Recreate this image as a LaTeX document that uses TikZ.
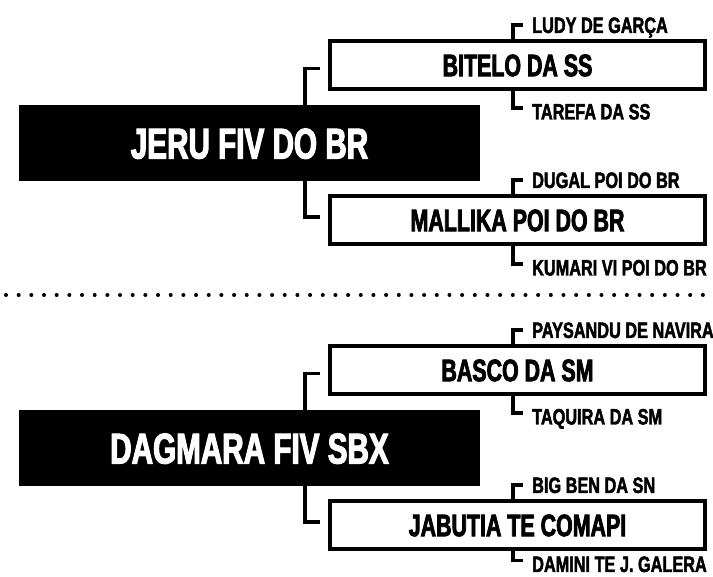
\documentclass[tikz,border=0pt]{standalone}
\usepackage{fontspec}
\usepackage{tikz}
\newfontfamily\namefont[FakeStretch=0.69, FakeBold=2.5]{Liberation Sans}
\newfontfamily\grandfont[FakeStretch=0.73, FakeBold=2]{Liberation Sans}
\tikzset{
  dam/.style={fill=black, text=white, inner sep=0pt,
    minimum width=461pt, minimum height=76pt,
    text height=31pt, text depth=0pt,
    font=\namefont\bfseries\fontsize{43}{43}\selectfont},
  parent/.style={draw, line width=3.5pt, fill=white, inner sep=0pt,
    minimum width=375pt, minimum height=48pt,
    text height=22.3pt, text depth=0pt,
    font=\namefont\bfseries\fontsize{31}{31}\selectfont},
  grand/.style={anchor=west, inner xsep=9pt, inner ysep=0pt,
    text height=16pt, text depth=0pt,
    font=\grandfont\bfseries\fontsize{22.3}{22.3}\selectfont}
}

\begin{document}
\begin{tikzpicture}[x=1pt, y=-1pt,
% brackets between the generations
link/.style={line width=3.5pt}]
\useasboundingbox (0,0) rectangle (713,577);
% first animal
\node[dam] (jeru) at (249.5,143) {JERU FIV DO BR};
\node[parent] (bitelo) at (517.5,65) {BITELO DA SS};
\node[parent] (mallika) at (517.5,220) {MALLIKA POI DO BR};
\node[grand] (ludy) at (523,25) {LUDY DE GARÇA};
\node[grand] (tarefa) at (523,111.5) {TAREFA DA SS};
\node[grand] (dugal) at (523,180) {DUGAL POI DO BR};
\node[grand] (kumari) at (523,267.5) {KUMARI VI POI DO BR};
\draw[link] ([xshift=-8pt,yshift=-3.5pt]bitelo.west) -| (jeru.north -| 305,0);
\draw[link] ([xshift=-8pt,yshift=3pt]mallika.west) -| (jeru.south -| 305,0);
\draw[link] (bitelo.north -| 513,0) |- (ludy.west);
\draw[link] (bitelo.south -| 513,0) |- ([yshift=3.5pt]tarefa.west);
\draw[link] (mallika.north -| 513,0) |- (dugal.west);
\draw[link] (mallika.south -| 513,0) |- ([yshift=3.5pt]kumari.west);
% dotted separator
\foreach \i in {0, 1, ..., 55} {
    \fill (6+\i*12.67, 295) circle (2pt);
}
% second animal
\node[dam] (dagmara) at (249.5,448) {DAGMARA FIV SBX};
\node[parent] (basco) at (517.5,370) {BASCO DA SM};
\node[parent] (jabutia) at (517.5,525) {JABUTIA TE COMAPI};
\node[grand] (paysandu) at (523,330) {PAYSANDU DE NAVIRA};
\node[grand] (taquira) at (523,416.5) {TAQUIRA DA SM};
\node[grand] (bigben) at (523,485) {BIG BEN DA SN};
\node[grand] (damini) at (523,564) {DAMINI TE J. GALERA};
\draw[link] ([xshift=-8pt,yshift=-3.5pt]basco.west) -| (dagmara.north -| 305,0);
\draw[link] ([xshift=-8pt,yshift=3pt]jabutia.west) -| (dagmara.south -| 305,0);
\draw[link] (basco.north -| 513,0) |- (paysandu.west);
\draw[link] (basco.south -| 513,0) |- ([yshift=3.5pt]taquira.west);
\draw[link] (jabutia.north -| 513,0) |- (bigben.west);
\draw[link] (jabutia.south -| 513,0) |- ([yshift=3.5pt]damini.west);
\end{tikzpicture}
\end{document}
